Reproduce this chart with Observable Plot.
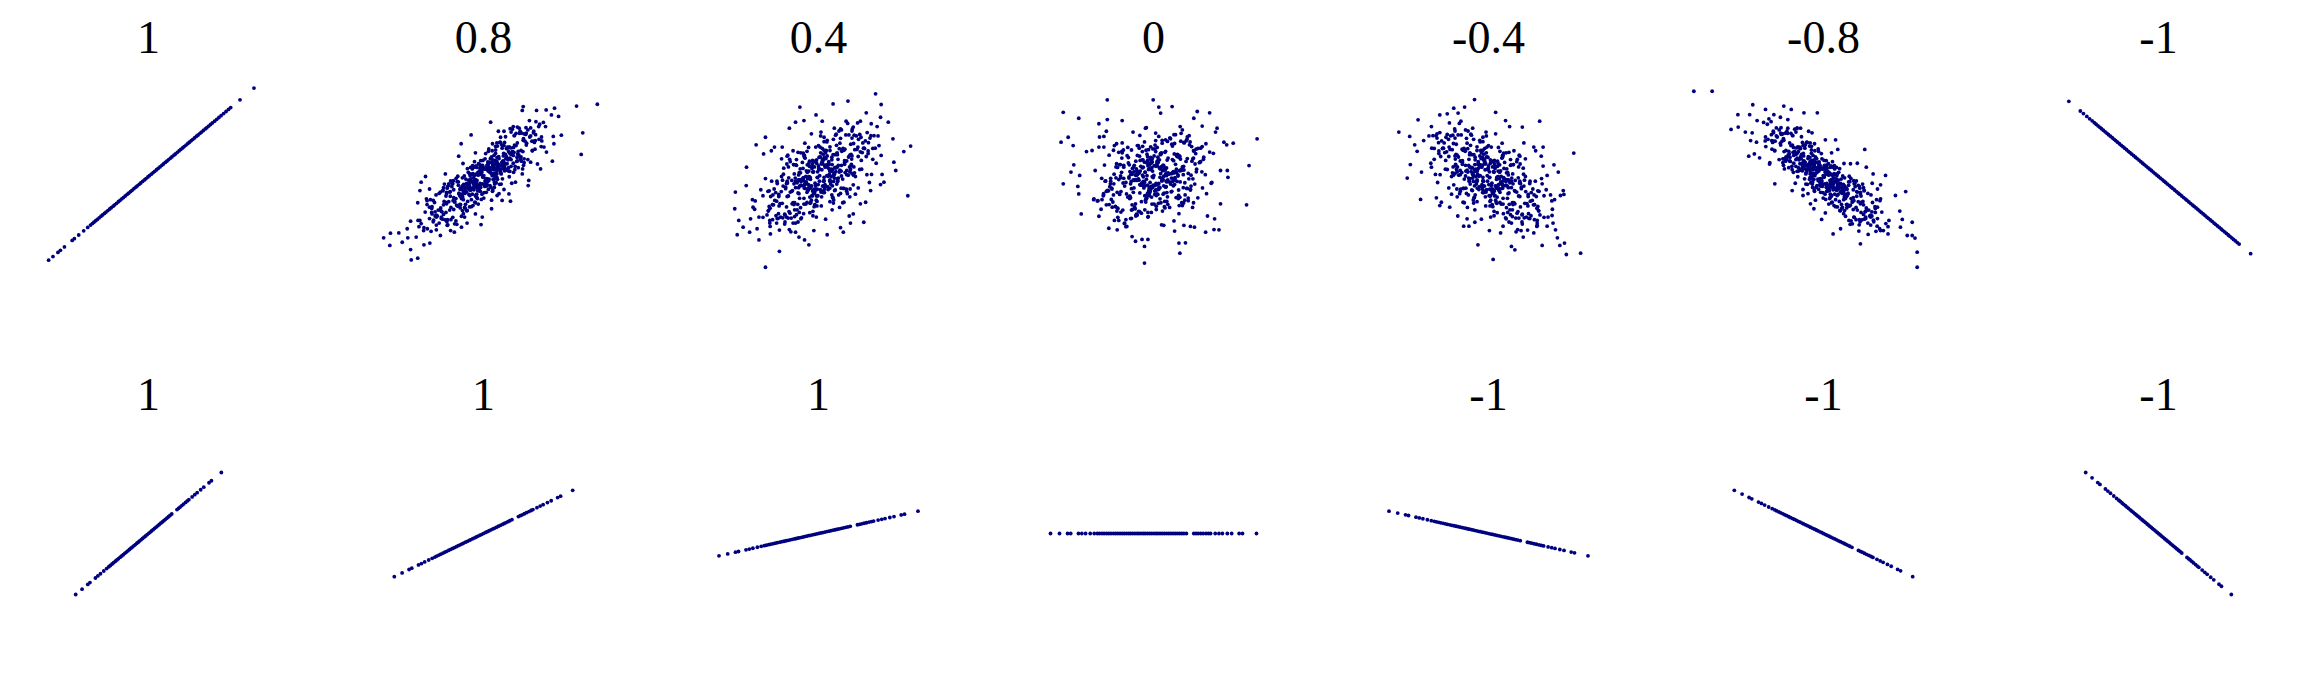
<!DOCTYPE html>
<html><head><meta charset="utf-8">
<script src="https://cdn.jsdelivr.net/npm/d3@7"></script>
<script src="https://cdn.jsdelivr.net/npm/@observablehq/plot@0.6"></script>
<style>html,body{margin:0;padding:0;background:#fff}</style>
</head><body><div id="chart"></div>
<script>
// Panel titles (Pearson correlation coefficient of each panel)
const topTitles = ["1","0.8","0.4","0","-0.4","-0.8","-1"];
const bottomTitles = ["1","1","1","","-1","-1","-1"];

// Row 1, column 1: correlation 1 (x values, points lie on y = x)
const rho1 = [-3.22,-3.08,-2.92,-2.84,-2.71,-2.46,-2.39,-2.25,-2.09,-1.96,-1.87,-1.81,-1.76,-1.70,-1.65,-1.59,-1.53,-1.48,-1.42,-1.37,-1.31,-1.25,-1.20,-1.14,-1.09,-1.03,-0.97,-0.92,-0.86,-0.81,-0.75,-0.69,-0.64,-0.58,-0.53,-0.47,-0.41,-0.36,-0.30,-0.25,-0.19,-0.13,-0.08,-0.02,0.03,0.09,0.15,0.20,0.26,0.31,0.37,0.43,0.48,0.54,0.59,0.65,0.71,0.76,0.82,0.87,0.93,0.99,1.04,1.10,1.15,1.21,1.27,1.32,1.38,1.43,1.49,1.55,1.60,1.66,1.71,1.77,1.83,1.88,1.94,2.00,2.06,2.13,2.20,2.27,2.34,2.42,2.50,2.58,2.65,2.95,3.40];

// Row 1, column 7: correlation -1 (x values, points lie on y = -x)
const rhoM1 = [-2.89,-2.52,-2.42,-2.31,-2.22,-2.14,-2.07,-2.01,-1.95,-1.89,-1.84,-1.78,-1.72,-1.66,-1.61,-1.55,-1.49,-1.43,-1.38,-1.32,-1.26,-1.20,-1.15,-1.09,-1.03,-0.97,-0.92,-0.86,-0.80,-0.74,-0.69,-0.63,-0.57,-0.51,-0.46,-0.40,-0.34,-0.28,-0.23,-0.17,-0.11,-0.05,0.00,0.06,0.12,0.18,0.23,0.29,0.35,0.41,0.46,0.52,0.58,0.64,0.69,0.75,0.81,0.87,0.92,0.98,1.04,1.10,1.15,1.21,1.27,1.33,1.38,1.44,1.50,1.56,1.61,1.67,1.73,1.79,1.84,1.90,1.96,2.02,2.07,2.13,2.19,2.25,2.30,2.36,2.42,2.48,2.54,2.60,2.97];

// Row 1, correlation 0.8
const rho08 = [
[3.67,2.78],[3.00,2.71],[2.29,2.63],[2.02,2.56],[1.71,2.54],[1.28,2.69],[1.25,2.54],[2.42,2.31],[2.19,2.37],[0.23,2.09],[3.20,1.68],[3.15,0.85],[2.51,1.59],[2.25,1.54],[2.27,1.26],[2.22,0.59],[1.84,0.29],[1.44,-0.35],[1.46,-0.15],[-0.40,1.60],[-0.72,1.26],[-0.80,0.78],[-1.23,0.10],[-1.87,0.00],[-2.01,-0.22],[-2.05,-0.54],[-2.12,-1.01],[-3.22,-2.36],[-3.00,-2.18],[-3.02,-2.65],[-2.73,-2.17],[-2.62,-2.53],[-2.35,-2.81],[-2.33,-3.21],[-2.12,-3.14],[-2.46,-2.01],[-2.35,-1.72],[-2.05,-1.69],[-1.92,-2.63],[-1.73,-2.56],[-1.39,-2.27],[-0.94,-2.14],[-0.71,-1.95],[-0.53,-1.79],[-0.08,-1.85],[-0.04,-1.56],[0.26,-1.24],[0.87,-0.95],[0.60,-0.92],[0.44,-0.73],[-1.92,-1.97],[-2.17,-2.33],[-2.44,-2.36],[1.48,2.15],[1.78,1.92],[2.00,1.92],[1.09,1.90],[0.96,1.92],[0.66,1.74],[0.55,1.51],[1.95,1.13],[2.03,0.94],[1.52,0.55],[1.25,0.10],[1.03,-0.22],[0.82,-0.67],[-0.26,-1.44],[-0.61,-1.56],[-1.06,-2.08],[-1.17,-1.88],[-1.52,-2.05],[-1.66,-1.44],[-1.82,-1.08],[-1.62,-0.92],[-1.39,-0.60],[-1.12,-0.28],
[0.12,-0.09],[-0.45,0.11],[0.83,-0.01],[-1.21,-1.00],[0.34,-0.11],[-0.07,0.26],[1.56,1.36],[-0.68,-1.31],[0.21,-0.35],[-0.93,-0.97],[0.55,1.31],[-0.29,-0.36],[1.12,0.34],[-1.67,-1.38],[0.04,-0.38],[0.71,1.53],[-0.38,-0.46],[1.34,1.36],[-0.16,0.49],[0.47,0.46],[-1.02,-0.39],[0.93,1.82],[-0.55,-0.27],[0.18,-0.10],[-1.43,-1.79],[0.62,0.59],[-0.11,-0.43],[1.81,2.01],[-0.79,-0.64],[0.29,-0.57],[-0.24,-0.71],[1.05,1.19],[-0.62,-0.38],[0.39,1.16],[-1.88,-1.37],[0.76,1.07],[-0.03,-0.28],[0.52,-0.30],[-0.87,-1.10],[1.27,0.96],[-0.33,-0.05],[0.09,-0.61],[-1.15,-1.86],[0.68,0.36],[-0.49,-0.46],[1.43,0.65],[-0.19,-0.54],[0.26,-0.91],[-0.71,-0.85],[0.98,0.93],[-1.31,-1.64],[0.15,0.44],[-0.58,-0.43],[1.69,2.11],[-0.08,-0.30],[0.43,0.22],[-0.97,-0.16],[0.81,0.21],[-0.27,-0.12],[0.01,0.03],[0.57,0.10],[-1.52,-1.87],[0.36,0.45],[-0.42,-0.53],[1.18,1.74],[-0.74,-1.08],[0.23,0.25],[-0.14,-0.56],[0.89,1.71],[-1.09,-0.60],[0.65,0.60],[-0.36,0.29],[1.49,1.52],[-0.52,-0.29],[0.07,0.88],[-1.26,-0.29],[0.74,0.76],[-0.21,-0.15],[1.01,0.26],[-0.65,-0.89],[0.31,0.51],[-1.74,-0.48],[0.49,0.45],[-0.05,0.17],[1.23,1.67],[-0.83,-1.14],[0.14,0.48],[-0.46,-0.29],[0.86,1.84],[-1.36,-1.62],[0.27,0.11],[-0.12,0.21],[1.62,1.74],[-0.59,-1.22],[0.41,0.09],[-0.96,-0.81],[0.05,0.68],[1.09,1.29],[-0.31,-0.39],[0.66,-0.50],[-1.19,-0.66],[0.19,0.35],[-0.77,-1.13],[1.38,1.21],[-0.02,0.62],[0.53,1.31],[-1.58,-1.00],[0.79,0.67],[-0.26,-0.75],[0.11,-0.31],[-0.89,-0.85],[1.16,1.66],[-0.43,0.03],[0.35,0.48],[-1.05,-1.66],[0.59,0.54],[-0.17,0.16],[1.93,2.08],[-0.69,-0.50],[0.24,-0.41],[-0.35,0.42],[0.96,0.51],[-1.39,-1.28],[0.45,1.17],[-0.09,0.37],[0.72,0.69],[-0.81,-0.34],[1.29,1.46],[-0.53,-1.31],[0.08,-0.10],[-1.12,-0.97],[0.61,1.19],[-0.22,-0.68],[1.52,1.56],[-0.64,-0.30],[0.33,0.27],[-0.99,-1.57],[0.85,0.20],[-0.13,-0.35],[0.17,1.06],[-1.61,-1.68],[0.69,0.47],[-0.39,-0.89],[1.07,0.58],[-0.76,-0.49],[0.28,0.99],[-0.04,0.30],[1.21,0.75],[-1.29,-0.43],[0.44,0.73],
[0.09,-0.12],[-0.11,0.45],[0.01,-0.83],[1.00,1.21],[0.11,-0.34],[-0.26,0.07],[-1.36,-1.56],[1.31,0.68],[0.35,-0.21],[0.97,0.93],[-1.31,-0.55],[0.36,0.29],[-0.34,-1.12],[1.38,1.67],[0.38,-0.04],[-1.53,-0.71],[0.46,0.38],[-1.36,-1.34],[-0.49,0.16],[-0.46,-0.47],[0.39,1.02],[-1.82,-0.93],[0.27,0.55],[0.10,-0.18],[1.79,1.43],[-0.59,-0.62],[0.43,0.11],[-2.01,-1.81],[0.64,0.79],[0.57,-0.29],[0.71,0.24],[-1.19,-1.05],[0.38,0.62],[-1.16,-0.39],[1.37,1.88],[-1.07,-0.76],[0.28,0.03],[0.30,-0.52],[1.10,0.87],[-0.96,-1.27],[0.05,0.33],[0.61,-0.09],[1.86,1.15],[-0.36,-0.68],[0.46,0.49],[-0.65,-1.43],[0.54,0.19],[0.91,-0.26],[0.85,0.71],[-0.93,-0.98],[1.64,1.31],[-0.44,-0.15],[0.43,0.58],[-2.11,-1.69],[0.30,0.08],[-0.22,-0.43],[0.16,0.97],[-0.21,-0.81],[0.12,0.27],[-0.03,-0.01],[-0.10,-0.57],[1.87,1.52],[-0.45,-0.36],[0.53,0.42],[-1.74,-1.18],[1.08,0.74],[-0.25,-0.23],[0.56,0.14],[-1.71,-0.89],[0.60,1.09],[-0.60,-0.65],[-0.29,0.36],[-1.52,-1.49],[0.29,0.52],[-0.88,-0.07],[0.29,1.26],[-0.76,-0.74],[0.15,0.21],[-0.26,-1.01],[0.89,0.65],[-0.51,-0.31],[0.48,1.74],[-0.45,-0.49],[-0.17,0.05],[-1.67,-1.23],[1.14,0.83],[-0.48,-0.14],[0.29,0.46],[-1.84,-0.86],[1.62,1.36],[-0.11,-0.27],[-0.21,0.12],[-1.74,-1.62],[1.22,0.59],[-0.09,-0.41],[0.81,0.96],[-0.68,-0.05],[-1.29,-1.09],[0.39,0.31],[0.50,-0.66],[0.66,1.19],[-0.35,-0.19],[1.13,0.77],[-1.21,-1.38],[-0.62,0.02],[-1.31,-0.53],[1.00,1.58],[-0.67,-0.79],[0.75,0.26],[0.31,-0.11],[0.85,0.89],[-1.66,-1.16],[-0.03,0.43],[-0.48,-0.35],[1.66,1.05],[-0.54,-0.59],[-0.16,0.17],[-2.08,-1.93],[0.50,0.69],[0.41,-0.24],[-0.42,0.35],[-0.51,-0.96],[1.28,1.39],[-1.17,-0.45],[-0.37,0.09],[-0.69,-0.72],[0.34,0.81],[-1.46,-1.29],[1.31,0.53],[0.10,-0.08],[0.97,1.12],[-1.19,-0.61],[0.68,0.22],[-1.56,-1.52],[0.30,0.64],[-0.27,-0.33],[1.57,0.99],[-0.20,-0.85],[0.35,0.13],[-1.06,-0.17],[1.68,1.61],[-0.47,-0.69],[0.89,0.39],[-0.58,-1.07],[0.49,0.76],[-0.99,-0.28],[-0.30,0.04],[-0.75,-1.21],[0.43,1.29],[-0.73,-0.44],
[-0.12,0.09],[0.45,-0.11],[-0.83,0.01],[1.21,1.00],[-0.34,0.11],[0.07,-0.26],[-1.56,-1.36],[0.68,1.31],[-0.21,0.35],[0.93,0.97],[-0.55,-1.31],[0.29,0.36],[-1.12,-0.34],[1.67,1.38],[-0.04,0.38],[-0.71,-1.53],[0.38,0.46],[-1.34,-1.36],[0.16,-0.49],[-0.47,-0.46],[1.02,0.39],[-0.93,-1.82],[0.55,0.27],[-0.18,0.10],[1.43,1.79],[-0.62,-0.59],[0.11,0.43],[-1.81,-2.01],[0.79,0.64],[-0.29,0.57],[0.24,0.71],[-1.05,-1.19],[0.62,0.38],[-0.39,-1.16],[1.88,1.37],[-0.76,-1.07],[0.03,0.28],[-0.52,0.30],[0.87,1.10],[-1.27,-0.96],[0.33,0.05],[-0.09,0.61],[1.15,1.86],[-0.68,-0.36],[0.49,0.46],[-1.43,-0.65],[0.19,0.54],[-0.26,0.91],[0.71,0.85],[-0.98,-0.93],[1.31,1.64],[-0.15,-0.44],[0.58,0.43],[-1.69,-2.11],[0.08,0.30],[-0.43,-0.22],[0.97,0.16],[-0.81,-0.21],[0.27,0.12],[-0.01,-0.03],[-0.57,-0.10],[1.52,1.87],[-0.36,-0.45],[0.42,0.53],[-1.18,-1.74],[0.74,1.08],[-0.23,-0.25],[0.14,0.56],[-0.89,-1.71],[1.09,0.60],[-0.65,-0.60],[0.36,-0.29],[-1.49,-1.52],[0.52,0.29],[-0.07,-0.88],[1.26,0.29],[-0.74,-0.76],[0.21,0.15],[-1.01,-0.26],[0.65,0.89],[-0.31,-0.51],[1.74,0.48],[-0.49,-0.45],[0.05,-0.17],[-1.23,-1.67],[0.83,1.14],[-0.14,-0.48],[0.46,0.29],[-0.86,-1.84],[1.36,1.62],[-0.27,-0.11],[0.12,-0.21],[-1.62,-1.74],[0.59,1.22],[-0.41,-0.09],[0.96,0.81],[-0.05,-0.68],[-1.09,-1.29],[0.31,0.39],[-0.66,0.50],[1.19,0.66],[-0.19,-0.35],[0.77,1.13],[-1.38,-1.21],[0.02,-0.62],[-0.53,-1.31],[1.58,1.00],[-0.79,-0.67],[0.26,0.75],[-0.11,0.31],[0.89,0.85],[-1.16,-1.66],[0.43,-0.03],[-0.35,-0.48],[1.05,1.66],[-0.59,-0.54],[0.17,-0.16],[-1.93,-2.08],[0.69,0.50],[-0.24,0.41],[0.35,-0.42],[-0.96,-0.51],[1.39,1.28],[-0.45,-1.17],[0.09,-0.37],[-0.72,-0.69],[0.81,0.34],[-1.29,-1.46],[0.53,1.31],[-0.08,0.10],[1.12,0.97],[-0.61,-1.19],[0.22,0.68],[-1.52,-1.56],[0.64,0.30],[-0.33,-0.27],[0.99,1.57],[-0.85,-0.20],[0.13,0.35],[-0.17,-1.06],[1.61,1.68],[-0.69,-0.47],[0.39,0.89],[-1.07,-0.58],[0.76,0.49],[-0.28,-0.99],[0.04,-0.30],[-1.21,-0.75],[1.29,0.43],[-0.44,-0.73]
];

// Row 1, correlation 0.4
const rho04 = [
[1.84,3.18],[2.02,2.77],[0.95,2.90],[0.47,2.79],[-0.60,2.67],[-0.08,2.37],[1.54,2.45],[2.00,2.28],[2.97,1.17],[2.75,0.96],[2.88,-0.74],[2.49,0.23],[2.43,0.55],[2.40,1.45],[2.25,2.09],[2.05,0.08],[2.11,-0.22],[1.46,-1.76],[1.03,-1.79],[0.80,-2.14],[0.28,-2.24],[-0.31,-2.63],[-1.26,-2.88],[-1.71,-3.49],[-2.62,-2.24],[-2.70,-1.24],[-2.68,-0.60],[-2.32,0.36],[-2.01,1.22],[-1.71,1.51],[-1.77,0.87],[-2.33,-0.35],[-2.57,-1.69],[-2.43,-1.95],[-2.22,-2.14],[-1.92,-2.44],[-1.98,-2.01],[-1.55,-2.21],[-0.74,-2.14],[-0.63,-2.33],[-0.45,-2.44],[-0.15,-2.08],[-1.42,1.13],[-1.17,1.13],[-0.94,1.86],[-0.74,2.09],[-0.47,2.15],[0.12,2.13],[0.71,1.83],[1.12,1.90],[1.35,2.13],[1.70,2.03],[1.89,1.92],[1.95,1.19],[2.02,0.81],[2.00,-0.31],[1.68,-0.54],[1.35,-1.05],[1.12,-1.44],[0.71,-1.97],[-0.82,-1.79],[-1.03,-1.56],[-1.35,-1.79],[-2.19,-1.63],[-2.11,-1.18],
[-0.31,-0.01],[0.78,-0.10],[-1.12,0.32],[-0.05,-1.13],[-0.64,0.06],[0.52,0.14],[0.18,1.51],[-1.27,-1.13],[-0.86,-0.15],[-0.37,-1.00],[1.45,1.09],[-0.22,-0.36],[-0.93,0.66],[-0.07,-1.56],[-0.69,-0.24],[1.61,1.30],[-0.26,-0.45],[0.48,1.43],[1.03,0.27],[0.14,0.49],[0.71,-0.65],[1.79,1.57],[0.29,-0.39],[-0.41,0.00],[-1.08,-1.75],[0.15,0.63],[-0.57,-0.33],[0.94,2.04],[-0.02,-0.74],[-1.33,-0.27],[-0.86,-0.57],[0.58,1.20],[0.19,-0.49],[1.41,0.92],[0.23,-1.64],[0.77,1.01],[-0.42,-0.20],[-1.19,0.00],[-0.67,-1.07],[-0.09,1.13],[0.36,-0.16],[-1.14,-0.37],[-1.57,-1.69],[-0.31,0.50],[-0.11,-0.50],[-0.82,0.99],[-0.64,-0.43],[-1.86,-0.51],[-0.47,-0.84],[0.25,1.00],[-0.98,-1.60],[0.54,0.35],[0.06,-0.51],[1.26,2.06],[-0.39,-0.23],[-0.21,0.31],[1.02,-0.48],[-0.73,0.45],[0.16,-0.18],[0.04,0.03],[-0.59,0.29],[-1.09,-1.83],[0.27,0.44],[-0.33,-0.52],[1.33,1.62],[-0.82,-1.01],[0.11,0.26],[-0.74,-0.43],[1.66,1.48],[0.46,-0.82],[0.13,0.65],[0.96,0.05],[0.55,1.59],[0.21,-0.39],[1.38,0.62],[1.19,-0.68],[0.28,0.79],[0.03,-0.18],[-0.91,0.57],[-0.61,-0.84],[0.44,0.46],[1.52,-0.99],[0.09,0.49],[0.35,0.09],[1.15,1.59],[-0.79,-1.08],[0.61,0.37],[0.13,-0.37],[1.92,1.56],[-0.88,-1.60],[-0.17,0.18],[0.51,0.09],[0.74,1.79],[-1.24,-1.04],[-0.39,0.22],[-0.07,-0.91],[1.06,0.47],[0.69,1.28],[-0.24,-0.38],[-1.71,-0.08],[0.49,-0.90],[0.33,0.31],[-0.85,-1.05],[0.18,1.34],[1.06,0.41],[1.48,1.08],[0.44,-1.28],[0.06,0.75],[-0.91,-0.60],[-0.67,-0.17],[-0.23,-0.91],[1.22,1.56],[0.62,-0.15],[0.34,0.46],[-1.37,-1.51],[0.12,0.59],[0.49,0.04],[0.89,2.13],[0.08,-0.60],[-1.01,-0.18],[1.16,0.14],[-0.43,0.71],[-0.28,-1.39],[1.35,0.95],[0.73,0.21],[0.19,0.74],[0.52,-0.54],[0.71,1.47],[-1.48,-1.08],[-0.27,-0.03],[-0.12,-1.08],[1.17,1.03],[-0.84,-0.54],[0.57,1.63],[0.36,-0.45],[0.01,0.31],[-1.29,-1.43],[-0.80,0.46],[-0.41,-0.28],[1.54,0.77],[-0.66,-1.75],[-0.14,0.58],[-0.97,-0.75],[-0.46,0.80],[0.19,-0.62],[1.28,0.77],[0.56,0.19],[-0.37,0.97],[1.01,-0.78],[0.63,0.66],
[0.01,0.31],[0.10,-0.78],[-0.32,1.12],[1.13,0.05],[-0.06,0.64],[-0.14,-0.52],[-1.51,-0.18],[1.13,1.27],[0.15,0.86],[1.00,0.37],[-1.09,-1.45],[0.36,0.22],[-0.66,0.93],[1.56,0.07],[0.24,0.69],[-1.30,-1.61],[0.45,0.26],[-1.43,-0.48],[-0.27,-1.03],[-0.49,-0.14],[0.65,-0.71],[-1.57,-1.79],[0.39,-0.29],[0.00,0.41],[1.75,1.08],[-0.63,-0.15],[0.33,0.57],[-2.04,-0.94],[0.74,0.02],[0.27,1.33],[0.57,0.86],[-1.20,-0.58],[0.49,-0.19],[-0.92,-1.41],[1.64,-0.23],[-1.01,-0.77],[0.20,0.42],[0.00,1.19],[1.07,0.67],[-1.13,0.09],[0.16,-0.36],[0.37,1.14],[1.69,1.57],[-0.50,0.31],[0.50,0.11],[-0.99,0.82],[0.43,0.64],[0.51,1.86],[0.84,0.47],[-1.00,-0.25],[1.60,0.98],[-0.35,-0.54],[0.51,-0.06],[-2.06,-1.26],[0.23,0.39],[-0.31,0.21],[0.48,-1.02],[-0.45,0.73],[0.18,-0.16],[-0.03,-0.04],[-0.29,0.59],[1.83,1.09],[-0.44,-0.27],[0.52,0.33],[-1.62,-1.33],[1.01,0.82],[-0.26,-0.11],[0.43,0.74],[-1.48,-1.66],[0.82,-0.46],[-0.65,-0.13],[-0.05,-0.96],[-1.59,-0.55],[0.39,-0.21],[-0.62,-1.38],[0.68,-1.19],[-0.79,-0.28],[0.18,-0.03],[-0.57,0.91],[0.84,0.61],[-0.46,-0.44],[0.99,-1.52],[-0.49,-0.09],[-0.09,-0.35],[-1.59,-1.15],[1.08,0.79],[-0.37,-0.61],[0.37,-0.13],[-1.56,-1.92],[1.60,0.88],[-0.18,0.17],[-0.09,-0.51],[-1.79,-0.74],[1.04,1.24],[-0.22,0.39],[0.91,0.07],[-0.47,-1.06],[-1.28,-0.69],[0.38,0.24],[0.08,1.71],[0.90,-0.49],[-0.31,-0.33],[1.05,0.85],[-1.34,-0.18],[-0.41,-1.06],[-1.08,-1.48],[1.28,-0.44],[-0.75,-0.06],[0.60,0.91],[0.17,0.67],[0.91,0.23],[-1.56,-1.22],[0.15,-0.62],[-0.46,-0.34],[1.51,1.37],[-0.59,-0.12],[-0.04,-0.49],[-2.13,-0.89],[0.60,-0.08],[0.18,1.01],[-0.14,-1.16],[-0.71,0.43],[1.39,0.28],[-0.95,-1.35],[-0.21,-0.73],[-0.74,-0.19],[0.54,-0.52],[-1.47,-0.71],[1.08,1.48],[0.03,0.27],[1.08,0.12],[-1.03,-1.17],[0.54,0.84],[-1.63,-0.57],[0.45,-0.36],[-0.31,-0.01],[1.43,1.29],[-0.46,0.80],[0.28,0.41],[-0.77,-1.54],[1.75,0.66],[-0.58,0.14],[0.75,0.97],[-0.80,0.46],[0.62,-0.19],[-0.77,-1.28],[-0.19,-0.56],[-0.97,0.37],[0.78,-1.01],[-0.66,-0.63],
[0.31,0.01],[-0.78,0.10],[1.12,-0.32],[0.05,1.13],[0.64,-0.06],[-0.52,-0.14],[-0.18,-1.51],[1.27,1.13],[0.86,0.15],[0.37,1.00],[-1.45,-1.09],[0.22,0.36],[0.93,-0.66],[0.07,1.56],[0.69,0.24],[-1.61,-1.30],[0.26,0.45],[-0.48,-1.43],[-1.03,-0.27],[-0.14,-0.49],[-0.71,0.65],[-1.79,-1.57],[-0.29,0.39],[0.41,0.00],[1.08,1.75],[-0.15,-0.63],[0.57,0.33],[-0.94,-2.04],[0.02,0.74],[1.33,0.27],[0.86,0.57],[-0.58,-1.20],[-0.19,0.49],[-1.41,-0.92],[-0.23,1.64],[-0.77,-1.01],[0.42,0.20],[1.19,0.00],[0.67,1.07],[0.09,-1.13],[-0.36,0.16],[1.14,0.37],[1.57,1.69],[0.31,-0.50],[0.11,0.50],[0.82,-0.99],[0.64,0.43],[1.86,0.51],[0.47,0.84],[-0.25,-1.00],[0.98,1.60],[-0.54,-0.35],[-0.06,0.51],[-1.26,-2.06],[0.39,0.23],[0.21,-0.31],[-1.02,0.48],[0.73,-0.45],[-0.16,0.18],[-0.04,-0.03],[0.59,-0.29],[1.09,1.83],[-0.27,-0.44],[0.33,0.52],[-1.33,-1.62],[0.82,1.01],[-0.11,-0.26],[0.74,0.43],[-1.66,-1.48],[-0.46,0.82],[-0.13,-0.65],[-0.96,-0.05],[-0.55,-1.59],[-0.21,0.39],[-1.38,-0.62],[-1.19,0.68],[-0.28,-0.79],[-0.03,0.18],[0.91,-0.57],[0.61,0.84],[-0.44,-0.46],[-1.52,0.99],[-0.09,-0.49],[-0.35,-0.09],[-1.15,-1.59],[0.79,1.08],[-0.61,-0.37],[-0.13,0.37],[-1.92,-1.56],[0.88,1.60],[0.17,-0.18],[-0.51,-0.09],[-0.74,-1.79],[1.24,1.04],[0.39,-0.22],[0.07,0.91],[-1.06,-0.47],[-0.69,-1.28],[0.24,0.38],[1.71,0.08],[-0.49,0.90],[-0.33,-0.31],[0.85,1.05],[-0.18,-1.34],[-1.06,-0.41],[-1.48,-1.08],[-0.44,1.28],[-0.06,-0.75],[0.91,0.60],[0.67,0.17],[0.23,0.91],[-1.22,-1.56],[-0.62,0.15],[-0.34,-0.46],[1.37,1.51],[-0.12,-0.59],[-0.49,-0.04],[-0.89,-2.13],[-0.08,0.60],[1.01,0.18],[-1.16,-0.14],[0.43,-0.71],[0.28,1.39],[-1.35,-0.95],[-0.73,-0.21],[-0.19,-0.74],[-0.52,0.54],[-0.71,-1.47],[1.48,1.08],[0.27,0.03],[0.12,1.08],[-1.17,-1.03],[0.84,0.54],[-0.57,-1.63],[-0.36,0.45],[-0.01,-0.31],[1.29,1.43],[0.80,-0.46],[0.41,0.28],[-1.54,-0.77],[0.66,1.75],[0.14,-0.58],[0.97,0.75],[0.46,-0.80],[-0.19,0.62],[-1.28,-0.77],[-0.56,-0.19],[0.37,-0.97],[-1.01,0.78],[-0.63,-0.66]
];

// Row 1, correlation 0
const rho0 = [
[-1.49,2.95],[-0.01,2.95],[0.60,2.69],[0.17,2.67],[0.23,2.44],[-2.91,2.47],[-2.41,2.24],[-1.49,2.19],[-1.01,2.15],[1.41,2.50],[1.81,2.45],[1.30,2.24],[1.57,1.94],[2.05,1.86],[2.00,1.71],[3.34,1.45],[2.57,1.28],[2.27,1.32],[2.36,1.22],[-2.98,1.32],[-2.75,1.51],[-2.59,1.19],[3.08,0.42],[2.40,-0.03],[2.16,0.23],[2.38,0.23],[3.00,-1.09],[2.16,-1.05],[1.97,-1.63],[2.11,-2.05],[1.95,-2.04],[1.68,-2.14],[-2.91,-0.28],[-2.66,0.17],[-2.57,0.45],[-2.38,0.04],[-2.44,-0.38],[-2.41,-0.67],[-2.33,-1.44],[-1.76,-1.53],[-1.44,-1.99],[-1.17,-2.05],[-1.12,-1.69],[-0.69,-2.31],[-0.58,-2.49],[-0.37,-2.42],[-0.18,-2.42],[-0.29,-2.69],[-0.29,-3.33],[0.85,-2.95],[0.82,-2.56],[1.03,-2.55],[0.68,-2.10],[0.33,-1.88],[0.98,-1.88],[1.19,-1.92],[1.32,-1.95],[-2.16,0.96],[-1.98,1.00],[-1.76,1.13],[-1.60,1.54],[-1.76,2.03],[-1.60,1.13],
[0.12,-0.31],[-0.45,0.78],[0.83,-1.12],[-1.21,-0.05],[0.34,-0.64],[-0.07,0.52],[1.56,0.18],[-0.68,-1.27],[0.21,-0.86],[-0.93,-0.37],[0.55,1.45],[-0.29,-0.22],[1.12,-0.93],[-1.67,-0.07],[0.04,-0.69],[0.71,1.61],[-0.38,-0.26],[1.34,0.48],[-0.16,1.03],[0.47,0.14],[-1.02,0.71],[0.93,1.79],[-0.55,0.29],[0.18,-0.41],[-1.43,-1.08],[0.62,0.15],[-0.11,-0.57],[1.81,0.94],[-0.79,-0.02],[0.29,-1.33],[-0.24,-0.86],[1.05,0.58],[-0.62,0.19],[0.39,1.41],[-1.88,0.23],[0.76,0.77],[-0.03,-0.42],[0.52,-1.19],[-0.87,-0.67],[1.27,-0.09],[-0.33,0.36],[0.09,-1.14],[-1.15,-1.57],[0.68,-0.31],[-0.49,-0.11],[1.43,-0.82],[-0.19,-0.64],[0.26,-1.86],[-0.71,-0.47],[0.98,0.25],[-1.31,-0.98],[0.15,0.54],[-0.58,0.06],[1.69,1.26],[-0.08,-0.39],[0.43,-0.21],[-0.97,1.02],[0.81,-0.73],[-0.27,0.16],[0.01,0.04],[0.57,-0.59],[-1.52,-1.09],[0.36,0.27],[-0.42,-0.33],[1.18,1.33],[-0.74,-0.82],[0.23,0.11],[-0.14,-0.74],[0.89,1.66],[-1.09,0.46],[0.65,0.13],[-0.36,0.96],[1.49,0.55],[-0.52,0.21],[0.07,1.38],[-1.26,1.19],[0.74,0.28],[-0.21,0.03],[1.01,-0.91],[-0.65,-0.61],[0.31,0.44],[-1.74,1.52],[0.49,0.09],[-0.05,0.35],[1.23,1.15],[-0.83,-0.79],[0.14,0.61],[-0.46,0.13],[0.86,1.92],[-1.36,-0.88],[0.27,-0.17],[-0.12,0.51],[1.62,0.74],[-0.59,-1.24],[0.41,-0.39],[-0.96,-0.07],[0.05,1.06],[1.09,0.69],[-0.31,-0.24],[0.66,-1.71],[-1.19,0.49],[0.19,0.33],[-0.77,-0.85],[1.38,0.18],[-0.02,1.06],[0.53,1.48],[-1.58,0.44],[0.79,0.06],[-0.26,-0.91],[0.11,-0.67],[-0.89,-0.23],[1.16,1.22],[-0.43,0.62],[0.35,0.34],[-1.05,-1.37],[0.59,0.12],[-0.17,0.49],[1.93,0.89],[-0.69,0.08],[0.24,-1.01],[-0.35,1.16],[0.96,-0.43],[-1.39,-0.28],[0.45,1.35],[-0.09,0.73],[0.72,0.19],[-0.81,0.52],[1.29,0.71],[-0.53,-1.48],[0.08,-0.27],[-1.12,-0.12],[0.61,1.17],[-0.22,-0.84],[1.52,0.57],[-0.64,0.36],[0.33,0.01],[-0.99,-1.29],[0.85,-0.80],[-0.13,-0.41],[0.17,1.54],[-1.61,-0.66],[0.69,-0.14],[-0.39,-0.97],[1.07,-0.46],[-0.76,0.19],[0.28,1.28],[-0.04,0.56],[1.21,-0.37],[-1.29,1.01],[0.44,0.63],
[0.31,-0.12],[-0.78,0.45],[1.12,-0.83],[0.05,1.21],[0.64,-0.34],[-0.52,0.07],[-0.18,-1.56],[1.27,0.68],[0.86,-0.21],[0.37,0.93],[-1.45,-0.55],[0.22,0.29],[0.93,-1.12],[0.07,1.67],[0.69,-0.04],[-1.61,-0.71],[0.26,0.38],[-0.48,-1.34],[-1.03,0.16],[-0.14,-0.47],[-0.71,1.02],[-1.79,-0.93],[-0.29,0.55],[0.41,-0.18],[1.08,1.43],[-0.15,-0.62],[0.57,0.11],[-0.94,-1.81],[0.02,0.79],[1.33,-0.29],[0.86,0.24],[-0.58,-1.05],[-0.19,0.62],[-1.41,-0.39],[-0.23,1.88],[-0.77,-0.76],[0.42,0.03],[1.19,-0.52],[0.67,0.87],[0.09,-1.27],[-0.36,0.33],[1.14,-0.09],[1.57,1.15],[0.31,-0.68],[0.11,0.49],[0.82,-1.43],[0.64,0.19],[1.86,-0.26],[0.47,0.71],[-0.25,-0.98],[0.98,1.31],[-0.54,-0.15],[-0.06,0.58],[-1.26,-1.69],[0.39,0.08],[0.21,-0.43],[-1.02,0.97],[0.73,-0.81],[-0.16,0.27],[-0.04,-0.01],[0.59,-0.57],[1.09,1.52],[-0.27,-0.36],[0.33,0.42],[-1.33,-1.18],[0.82,0.74],[-0.11,-0.23],[0.74,0.14],[-1.66,-0.89],[-0.46,1.09],[-0.13,-0.65],[-0.96,0.36],[-0.55,-1.49],[-0.21,0.52],[-1.38,-0.07],[-1.19,1.26],[-0.28,-0.74],[-0.03,0.21],[0.91,-1.01],[0.61,0.65],[-0.44,-0.31],[-1.52,1.74],[-0.09,-0.49],[-0.35,0.05],[-1.15,-1.23],[0.79,0.83],[-0.61,-0.14],[-0.13,0.46],[-1.92,-0.86],[0.88,1.36],[0.17,-0.27],[-0.51,0.12],[-0.74,-1.62],[1.24,0.59],[0.39,-0.41],[0.07,0.96],[-1.06,-0.05],[-0.69,-1.09],[0.24,0.31],[1.71,-0.66],[-0.49,1.19],[-0.33,-0.19],[0.85,0.77],[-0.18,-1.38],[-1.06,0.02],[-1.48,-0.53],[-0.44,1.58],[-0.06,-0.79],[0.91,0.26],[0.67,-0.11],[0.23,0.89],[-1.22,-1.16],[-0.62,0.43],[-0.34,-0.35],[1.37,1.05],[-0.12,-0.59],[-0.49,0.17],[-0.89,-1.93],[-0.08,0.69],[1.01,-0.24],[-1.16,0.35],[0.43,-0.96],[0.28,1.39],[-1.35,-0.45],[-0.73,0.09],[-0.19,-0.72],[-0.52,0.81],[-0.71,-1.29],[1.48,0.53],[0.27,-0.08],[0.12,1.12],[-1.17,-0.61],[0.84,0.22],[-0.57,-1.52],[-0.36,0.64],[-0.01,-0.33],[1.29,0.99],[0.80,-0.85],[0.41,0.13],[-1.54,-0.17],[0.66,1.61],[0.14,-0.69],[0.97,0.39],[0.46,-1.07],[-0.19,0.76],[-1.28,-0.28],[-0.56,0.04],[0.37,-1.21],[-1.01,1.29],[-0.63,-0.44],
[-0.12,0.31],[0.45,-0.78],[-0.83,1.12],[1.21,0.05],[-0.34,0.64],[0.07,-0.52],[-1.56,-0.18],[0.68,1.27],[-0.21,0.86],[0.93,0.37],[-0.55,-1.45],[0.29,0.22],[-1.12,0.93],[1.67,0.07],[-0.04,0.69],[-0.71,-1.61],[0.38,0.26],[-1.34,-0.48],[0.16,-1.03],[-0.47,-0.14],[1.02,-0.71],[-0.93,-1.79],[0.55,-0.29],[-0.18,0.41],[1.43,1.08],[-0.62,-0.15],[0.11,0.57],[-1.81,-0.94],[0.79,0.02],[-0.29,1.33],[0.24,0.86],[-1.05,-0.58],[0.62,-0.19],[-0.39,-1.41],[1.88,-0.23],[-0.76,-0.77],[0.03,0.42],[-0.52,1.19],[0.87,0.67],[-1.27,0.09],[0.33,-0.36],[-0.09,1.14],[1.15,1.57],[-0.68,0.31],[0.49,0.11],[-1.43,0.82],[0.19,0.64],[-0.26,1.86],[0.71,0.47],[-0.98,-0.25],[1.31,0.98],[-0.15,-0.54],[0.58,-0.06],[-1.69,-1.26],[0.08,0.39],[-0.43,0.21],[0.97,-1.02],[-0.81,0.73],[0.27,-0.16],[-0.01,-0.04],[-0.57,0.59],[1.52,1.09],[-0.36,-0.27],[0.42,0.33],[-1.18,-1.33],[0.74,0.82],[-0.23,-0.11],[0.14,0.74],[-0.89,-1.66],[1.09,-0.46],[-0.65,-0.13],[0.36,-0.96],[-1.49,-0.55],[0.52,-0.21],[-0.07,-1.38],[1.26,-1.19],[-0.74,-0.28],[0.21,-0.03],[-1.01,0.91],[0.65,0.61],[-0.31,-0.44],[1.74,-1.52],[-0.49,-0.09],[0.05,-0.35],[-1.23,-1.15],[0.83,0.79],[-0.14,-0.61],[0.46,-0.13],[-0.86,-1.92],[1.36,0.88],[-0.27,0.17],[0.12,-0.51],[-1.62,-0.74],[0.59,1.24],[-0.41,0.39],[0.96,0.07],[-0.05,-1.06],[-1.09,-0.69],[0.31,0.24],[-0.66,1.71],[1.19,-0.49],[-0.19,-0.33],[0.77,0.85],[-1.38,-0.18],[0.02,-1.06],[-0.53,-1.48],[1.58,-0.44],[-0.79,-0.06],[0.26,0.91],[-0.11,0.67],[0.89,0.23],[-1.16,-1.22],[0.43,-0.62],[-0.35,-0.34],[1.05,1.37],[-0.59,-0.12],[0.17,-0.49],[-1.93,-0.89],[0.69,-0.08],[-0.24,1.01],[0.35,-1.16],[-0.96,0.43],[1.39,0.28],[-0.45,-1.35],[0.09,-0.73],[-0.72,-0.19],[0.81,-0.52],[-1.29,-0.71],[0.53,1.48],[-0.08,0.27],[1.12,0.12],[-0.61,-1.17],[0.22,0.84],[-1.52,-0.57],[0.64,-0.36],[-0.33,-0.01],[0.99,1.29],[-0.85,0.80],[0.13,0.41],[-0.17,-1.54],[1.61,0.66],[-0.69,0.14],[0.39,0.97],[-1.07,0.46],[0.76,-0.19],[-0.28,-1.28],[0.04,-0.56],[-1.21,0.37],[1.29,-1.01],[-0.44,-0.63]
];

// Row 1, correlation -0.4
const rhoM04 = [
[-0.45,2.96],[-0.77,2.67],[-1.12,2.63],[-1.33,2.41],[-1.57,2.37],[-0.98,2.44],[0.23,2.47],[-2.27,2.18],[-2.89,1.71],[-2.54,1.54],[-1.84,1.92],[-1.66,1.64],[-2.38,1.22],[-2.30,0.97],[-2.09,1.38],[-2.52,0.46],[-2.62,-0.06],[-2.16,0.17],[-2.19,-0.88],[-1.84,0.36],[0.55,2.15],[0.68,1.92],[1.09,1.90],[1.65,2.13],[1.14,1.29],[1.46,1.13],[1.76,1.13],[1.70,0.78],[2.75,0.90],[2.11,0.45],[2.25,0.17],[1.76,0.40],[1.89,0.04],[1.73,-0.28],[2.41,-0.54],[2.43,-0.69],[2.32,-0.73],[2.00,-0.71],[2.97,-2.95],[2.51,-3.00],[2.45,-2.56],[2.30,-2.65],[2.22,-2.36],[1.73,-2.65],[2.16,-2.05],[1.89,-1.91],[2.05,-1.50],[2.08,-1.79],[1.46,-2.17],[1.57,-1.88],[0.85,-2.82],[0.74,-2.69],[0.15,-3.19],[-0.34,-2.63],[0.03,-2.08],[0.39,-2.17],[0.47,-1.91],[1.05,-2.08],[1.12,-2.33],[-0.44,-1.76],[-0.80,-1.91],[-0.63,-1.91],[-0.69,-1.63],[-1.57,-1.12],[-1.25,-1.18],[-1.68,-0.82],
[0.31,-0.01],[-0.78,-0.10],[1.12,0.32],[0.05,-1.13],[0.64,0.06],[-0.52,0.14],[-0.18,1.51],[1.27,-1.13],[0.86,-0.15],[0.37,-1.00],[-1.45,1.09],[0.22,-0.36],[0.93,0.66],[0.07,-1.56],[0.69,-0.24],[-1.61,1.30],[0.26,-0.45],[-0.48,1.43],[-1.03,0.27],[-0.14,0.49],[-0.71,-0.65],[-1.79,1.57],[-0.29,-0.39],[0.41,0.00],[1.08,-1.75],[-0.15,0.63],[0.57,-0.33],[-0.94,2.04],[0.02,-0.74],[1.33,-0.27],[0.86,-0.57],[-0.58,1.20],[-0.19,-0.49],[-1.41,0.92],[-0.23,-1.64],[-0.77,1.01],[0.42,-0.20],[1.19,0.00],[0.67,-1.07],[0.09,1.13],[-0.36,-0.16],[1.14,-0.37],[1.57,-1.69],[0.31,0.50],[0.11,-0.50],[0.82,0.99],[0.64,-0.43],[1.86,-0.51],[0.47,-0.84],[-0.25,1.00],[0.98,-1.60],[-0.54,0.35],[-0.06,-0.51],[-1.26,2.06],[0.39,-0.23],[0.21,0.31],[-1.02,-0.48],[0.73,0.45],[-0.16,-0.18],[-0.04,0.03],[0.59,0.29],[1.09,-1.83],[-0.27,0.44],[0.33,-0.52],[-1.33,1.62],[0.82,-1.01],[-0.11,0.26],[0.74,-0.43],[-1.66,1.48],[-0.46,-0.82],[-0.13,0.65],[-0.96,0.05],[-0.55,1.59],[-0.21,-0.39],[-1.38,0.62],[-1.19,-0.68],[-0.28,0.79],[-0.03,-0.18],[0.91,0.57],[0.61,-0.84],[-0.44,0.46],[-1.52,-0.99],[-0.09,0.49],[-0.35,0.09],[-1.15,1.59],[0.79,-1.08],[-0.61,0.37],[-0.13,-0.37],[-1.92,1.56],[0.88,-1.60],[0.17,0.18],[-0.51,0.09],[-0.74,1.79],[1.24,-1.04],[0.39,0.22],[0.07,-0.91],[-1.06,0.47],[-0.69,1.28],[0.24,-0.38],[1.71,-0.08],[-0.49,-0.90],[-0.33,0.31],[0.85,-1.05],[-0.18,1.34],[-1.06,0.41],[-1.48,1.08],[-0.44,-1.28],[-0.06,0.75],[0.91,-0.60],[0.67,-0.17],[0.23,-0.91],[-1.22,1.56],[-0.62,-0.15],[-0.34,0.46],[1.37,-1.51],[-0.12,0.59],[-0.49,0.04],[-0.89,2.13],[-0.08,-0.60],[1.01,-0.18],[-1.16,0.14],[0.43,0.71],[0.28,-1.39],[-1.35,0.95],[-0.73,0.21],[-0.19,0.74],[-0.52,-0.54],[-0.71,1.47],[1.48,-1.08],[0.27,-0.03],[0.12,-1.08],[-1.17,1.03],[0.84,-0.54],[-0.57,1.63],[-0.36,-0.45],[-0.01,0.31],[1.29,-1.43],[0.80,0.46],[0.41,-0.28],[-1.54,0.77],[0.66,-1.75],[0.14,0.58],[0.97,-0.75],[0.46,0.80],[-0.19,-0.62],[-1.28,0.77],[-0.56,0.19],[0.37,0.97],[-1.01,-0.78],[-0.63,0.66],
[-0.01,0.31],[-0.10,-0.78],[0.32,1.12],[-1.13,0.05],[0.06,0.64],[0.14,-0.52],[1.51,-0.18],[-1.13,1.27],[-0.15,0.86],[-1.00,0.37],[1.09,-1.45],[-0.36,0.22],[0.66,0.93],[-1.56,0.07],[-0.24,0.69],[1.30,-1.61],[-0.45,0.26],[1.43,-0.48],[0.27,-1.03],[0.49,-0.14],[-0.65,-0.71],[1.57,-1.79],[-0.39,-0.29],[0.00,0.41],[-1.75,1.08],[0.63,-0.15],[-0.33,0.57],[2.04,-0.94],[-0.74,0.02],[-0.27,1.33],[-0.57,0.86],[1.20,-0.58],[-0.49,-0.19],[0.92,-1.41],[-1.64,-0.23],[1.01,-0.77],[-0.20,0.42],[0.00,1.19],[-1.07,0.67],[1.13,0.09],[-0.16,-0.36],[-0.37,1.14],[-1.69,1.57],[0.50,0.31],[-0.50,0.11],[0.99,0.82],[-0.43,0.64],[-0.51,1.86],[-0.84,0.47],[1.00,-0.25],[-1.60,0.98],[0.35,-0.54],[-0.51,-0.06],[2.06,-1.26],[-0.23,0.39],[0.31,0.21],[-0.48,-1.02],[0.45,0.73],[-0.18,-0.16],[0.03,-0.04],[0.29,0.59],[-1.83,1.09],[0.44,-0.27],[-0.52,0.33],[1.62,-1.33],[-1.01,0.82],[0.26,-0.11],[-0.43,0.74],[1.48,-1.66],[-0.82,-0.46],[0.65,-0.13],[0.05,-0.96],[1.59,-0.55],[-0.39,-0.21],[0.62,-1.38],[-0.68,-1.19],[0.79,-0.28],[-0.18,-0.03],[0.57,0.91],[-0.84,0.61],[0.46,-0.44],[-0.99,-1.52],[0.49,-0.09],[0.09,-0.35],[1.59,-1.15],[-1.08,0.79],[0.37,-0.61],[-0.37,-0.13],[1.56,-1.92],[-1.60,0.88],[0.18,0.17],[0.09,-0.51],[1.79,-0.74],[-1.04,1.24],[0.22,0.39],[-0.91,0.07],[0.47,-1.06],[1.28,-0.69],[-0.38,0.24],[-0.08,1.71],[-0.90,-0.49],[0.31,-0.33],[-1.05,0.85],[1.34,-0.18],[0.41,-1.06],[1.08,-1.48],[-1.28,-0.44],[0.75,-0.06],[-0.60,0.91],[-0.17,0.67],[-0.91,0.23],[1.56,-1.22],[-0.15,-0.62],[0.46,-0.34],[-1.51,1.37],[0.59,-0.12],[0.04,-0.49],[2.13,-0.89],[-0.60,-0.08],[-0.18,1.01],[0.14,-1.16],[0.71,0.43],[-1.39,0.28],[0.95,-1.35],[0.21,-0.73],[0.74,-0.19],[-0.54,-0.52],[1.47,-0.71],[-1.08,1.48],[-0.03,0.27],[-1.08,0.12],[1.03,-1.17],[-0.54,0.84],[1.63,-0.57],[-0.45,-0.36],[0.31,-0.01],[-1.43,1.29],[0.46,0.80],[-0.28,0.41],[0.77,-1.54],[-1.75,0.66],[0.58,0.14],[-0.75,0.97],[0.80,0.46],[-0.62,-0.19],[0.77,-1.28],[0.19,-0.56],[0.97,0.37],[-0.78,-1.01],[0.66,-0.63],
[-0.31,0.01],[0.78,0.10],[-1.12,-0.32],[-0.05,1.13],[-0.64,-0.06],[0.52,-0.14],[0.18,-1.51],[-1.27,1.13],[-0.86,0.15],[-0.37,1.00],[1.45,-1.09],[-0.22,0.36],[-0.93,-0.66],[-0.07,1.56],[-0.69,0.24],[1.61,-1.30],[-0.26,0.45],[0.48,-1.43],[1.03,-0.27],[0.14,-0.49],[0.71,0.65],[1.79,-1.57],[0.29,0.39],[-0.41,0.00],[-1.08,1.75],[0.15,-0.63],[-0.57,0.33],[0.94,-2.04],[-0.02,0.74],[-1.33,0.27],[-0.86,0.57],[0.58,-1.20],[0.19,0.49],[1.41,-0.92],[0.23,1.64],[0.77,-1.01],[-0.42,0.20],[-1.19,0.00],[-0.67,1.07],[-0.09,-1.13],[0.36,0.16],[-1.14,0.37],[-1.57,1.69],[-0.31,-0.50],[-0.11,0.50],[-0.82,-0.99],[-0.64,0.43],[-1.86,0.51],[-0.47,0.84],[0.25,-1.00],[-0.98,1.60],[0.54,-0.35],[0.06,0.51],[1.26,-2.06],[-0.39,0.23],[-0.21,-0.31],[1.02,0.48],[-0.73,-0.45],[0.16,0.18],[0.04,-0.03],[-0.59,-0.29],[-1.09,1.83],[0.27,-0.44],[-0.33,0.52],[1.33,-1.62],[-0.82,1.01],[0.11,-0.26],[-0.74,0.43],[1.66,-1.48],[0.46,0.82],[0.13,-0.65],[0.96,-0.05],[0.55,-1.59],[0.21,0.39],[1.38,-0.62],[1.19,0.68],[0.28,-0.79],[0.03,0.18],[-0.91,-0.57],[-0.61,0.84],[0.44,-0.46],[1.52,0.99],[0.09,-0.49],[0.35,-0.09],[1.15,-1.59],[-0.79,1.08],[0.61,-0.37],[0.13,0.37],[1.92,-1.56],[-0.88,1.60],[-0.17,-0.18],[0.51,-0.09],[0.74,-1.79],[-1.24,1.04],[-0.39,-0.22],[-0.07,0.91],[1.06,-0.47],[0.69,-1.28],[-0.24,0.38],[-1.71,0.08],[0.49,0.90],[0.33,-0.31],[-0.85,1.05],[0.18,-1.34],[1.06,-0.41],[1.48,-1.08],[0.44,1.28],[0.06,-0.75],[-0.91,0.60],[-0.67,0.17],[-0.23,0.91],[1.22,-1.56],[0.62,0.15],[0.34,-0.46],[-1.37,1.51],[0.12,-0.59],[0.49,-0.04],[0.89,-2.13],[0.08,0.60],[-1.01,0.18],[1.16,-0.14],[-0.43,-0.71],[-0.28,1.39],[1.35,-0.95],[0.73,-0.21],[0.19,-0.74],[0.52,0.54],[0.71,-1.47],[-1.48,1.08],[-0.27,0.03],[-0.12,1.08],[1.17,-1.03],[-0.84,0.54],[0.57,-1.63],[0.36,0.45],[0.01,-0.31],[-1.29,1.43],[-0.80,-0.46],[-0.41,0.28],[1.54,-0.77],[-0.66,1.75],[-0.14,-0.58],[-0.97,0.75],[-0.46,-0.80],[0.19,0.62],[1.28,-0.77],[0.56,-0.19],[-0.37,-0.97],[1.01,0.78],[0.63,-0.66]
];

// Row 1, correlation -0.8
const rhoM08 = [
[-4.18,3.28],[-3.59,3.28],[-2.28,2.76],[-2.76,2.38],[-2.38,2.38],[-1.87,2.58],[-1.28,2.71],[-1.04,2.58],[-0.63,2.45],[-0.20,2.45],[-1.60,2.38],[-1.39,2.28],[-1.15,2.19],[-2.14,2.15],[-1.76,2.22],[-2.98,1.81],[-2.75,1.90],[-2.52,1.71],[-2.30,1.68],[-2.16,1.32],[-2.35,1.38],[-2.41,0.78],[-2.23,0.87],[-2.06,0.72],[-1.73,0.53],[-1.57,-0.28],[-1.28,0.68],[-0.85,1.87],[-0.74,1.86],[-0.37,1.68],[0.06,1.41],[0.39,1.41],[0.46,1.04],[1.33,1.04],[0.87,0.49],[1.09,0.51],[1.38,0.36],[2.00,0.04],[1.60,0.10],[1.57,-0.26],[1.84,-0.32],[2.32,-0.73],[2.65,-0.58],[2.46,-1.33],[2.54,-1.65],[2.48,-1.95],[2.86,-1.76],[2.70,-2.27],[2.86,-2.27],[2.95,-2.37],[3.02,-2.91],[3.02,-3.49],[2.08,-2.21],[1.84,-2.08],[1.73,-1.91],[1.44,-2.23],[1.19,-2.59],[1.14,-2.10],[0.31,-2.21],[0.55,-2.01],[-0.06,-1.65],[0.06,-1.40],[-0.31,-1.24],[-0.66,-0.73],[-1.01,-0.54],[-0.42,-1.05],[0.82,-1.69],[0.98,-1.56],
[-0.12,-0.09],[0.45,0.11],[-0.83,-0.01],[1.21,-1.00],[-0.34,-0.11],[0.07,0.26],[-1.56,1.36],[0.68,-1.31],[-0.21,-0.35],[0.93,-0.97],[-0.55,1.31],[0.29,-0.36],[-1.12,0.34],[1.67,-1.38],[-0.04,-0.38],[-0.71,1.53],[0.38,-0.46],[-1.34,1.36],[0.16,0.49],[-0.47,0.46],[1.02,-0.39],[-0.93,1.82],[0.55,-0.27],[-0.18,-0.10],[1.43,-1.79],[-0.62,0.59],[0.11,-0.43],[-1.81,2.01],[0.79,-0.64],[-0.29,-0.57],[0.24,-0.71],[-1.05,1.19],[0.62,-0.38],[-0.39,1.16],[1.88,-1.37],[-0.76,1.07],[0.03,-0.28],[-0.52,-0.30],[0.87,-1.10],[-1.27,0.96],[0.33,-0.05],[-0.09,-0.61],[1.15,-1.86],[-0.68,0.36],[0.49,-0.46],[-1.43,0.65],[0.19,-0.54],[-0.26,-0.91],[0.71,-0.85],[-0.98,0.93],[1.31,-1.64],[-0.15,0.44],[0.58,-0.43],[-1.69,2.11],[0.08,-0.30],[-0.43,0.22],[0.97,-0.16],[-0.81,0.21],[0.27,-0.12],[-0.01,0.03],[-0.57,0.10],[1.52,-1.87],[-0.36,0.45],[0.42,-0.53],[-1.18,1.74],[0.74,-1.08],[-0.23,0.25],[0.14,-0.56],[-0.89,1.71],[1.09,-0.60],[-0.65,0.60],[0.36,0.29],[-1.49,1.52],[0.52,-0.29],[-0.07,0.88],[1.26,-0.29],[-0.74,0.76],[0.21,-0.15],[-1.01,0.26],[0.65,-0.89],[-0.31,0.51],[1.74,-0.48],[-0.49,0.45],[0.05,0.17],[-1.23,1.67],[0.83,-1.14],[-0.14,0.48],[0.46,-0.29],[-0.86,1.84],[1.36,-1.62],[-0.27,0.11],[0.12,0.21],[-1.62,1.74],[0.59,-1.22],[-0.41,0.09],[0.96,-0.81],[-0.05,0.68],[-1.09,1.29],[0.31,-0.39],[-0.66,-0.50],[1.19,-0.66],[-0.19,0.35],[0.77,-1.13],[-1.38,1.21],[0.02,0.62],[-0.53,1.31],[1.58,-1.00],[-0.79,0.67],[0.26,-0.75],[-0.11,-0.31],[0.89,-0.85],[-1.16,1.66],[0.43,0.03],[-0.35,0.48],[1.05,-1.66],[-0.59,0.54],[0.17,0.16],[-1.93,2.08],[0.69,-0.50],[-0.24,-0.41],[0.35,0.42],[-0.96,0.51],[1.39,-1.28],[-0.45,1.17],[0.09,0.37],[-0.72,0.69],[0.81,-0.34],[-1.29,1.46],[0.53,-1.31],[-0.08,-0.10],[1.12,-0.97],[-0.61,1.19],[0.22,-0.68],[-1.52,1.56],[0.64,-0.30],[-0.33,0.27],[0.99,-1.57],[-0.85,0.20],[0.13,-0.35],[-0.17,1.06],[1.61,-1.68],[-0.69,0.47],[0.39,-0.89],[-1.07,0.58],[0.76,-0.49],[-0.28,0.99],[0.04,0.30],[-1.21,0.75],[1.29,-0.43],[-0.44,0.73],
[-0.09,-0.12],[0.11,0.45],[-0.01,-0.83],[-1.00,1.21],[-0.11,-0.34],[0.26,0.07],[1.36,-1.56],[-1.31,0.68],[-0.35,-0.21],[-0.97,0.93],[1.31,-0.55],[-0.36,0.29],[0.34,-1.12],[-1.38,1.67],[-0.38,-0.04],[1.53,-0.71],[-0.46,0.38],[1.36,-1.34],[0.49,0.16],[0.46,-0.47],[-0.39,1.02],[1.82,-0.93],[-0.27,0.55],[-0.10,-0.18],[-1.79,1.43],[0.59,-0.62],[-0.43,0.11],[2.01,-1.81],[-0.64,0.79],[-0.57,-0.29],[-0.71,0.24],[1.19,-1.05],[-0.38,0.62],[1.16,-0.39],[-1.37,1.88],[1.07,-0.76],[-0.28,0.03],[-0.30,-0.52],[-1.10,0.87],[0.96,-1.27],[-0.05,0.33],[-0.61,-0.09],[-1.86,1.15],[0.36,-0.68],[-0.46,0.49],[0.65,-1.43],[-0.54,0.19],[-0.91,-0.26],[-0.85,0.71],[0.93,-0.98],[-1.64,1.31],[0.44,-0.15],[-0.43,0.58],[2.11,-1.69],[-0.30,0.08],[0.22,-0.43],[-0.16,0.97],[0.21,-0.81],[-0.12,0.27],[0.03,-0.01],[0.10,-0.57],[-1.87,1.52],[0.45,-0.36],[-0.53,0.42],[1.74,-1.18],[-1.08,0.74],[0.25,-0.23],[-0.56,0.14],[1.71,-0.89],[-0.60,1.09],[0.60,-0.65],[0.29,0.36],[1.52,-1.49],[-0.29,0.52],[0.88,-0.07],[-0.29,1.26],[0.76,-0.74],[-0.15,0.21],[0.26,-1.01],[-0.89,0.65],[0.51,-0.31],[-0.48,1.74],[0.45,-0.49],[0.17,0.05],[1.67,-1.23],[-1.14,0.83],[0.48,-0.14],[-0.29,0.46],[1.84,-0.86],[-1.62,1.36],[0.11,-0.27],[0.21,0.12],[1.74,-1.62],[-1.22,0.59],[0.09,-0.41],[-0.81,0.96],[0.68,-0.05],[1.29,-1.09],[-0.39,0.31],[-0.50,-0.66],[-0.66,1.19],[0.35,-0.19],[-1.13,0.77],[1.21,-1.38],[0.62,0.02],[1.31,-0.53],[-1.00,1.58],[0.67,-0.79],[-0.75,0.26],[-0.31,-0.11],[-0.85,0.89],[1.66,-1.16],[0.03,0.43],[0.48,-0.35],[-1.66,1.05],[0.54,-0.59],[0.16,0.17],[2.08,-1.93],[-0.50,0.69],[-0.41,-0.24],[0.42,0.35],[0.51,-0.96],[-1.28,1.39],[1.17,-0.45],[0.37,0.09],[0.69,-0.72],[-0.34,0.81],[1.46,-1.29],[-1.31,0.53],[-0.10,-0.08],[-0.97,1.12],[1.19,-0.61],[-0.68,0.22],[1.56,-1.52],[-0.30,0.64],[0.27,-0.33],[-1.57,0.99],[0.20,-0.85],[-0.35,0.13],[1.06,-0.17],[-1.68,1.61],[0.47,-0.69],[-0.89,0.39],[0.58,-1.07],[-0.49,0.76],[0.99,-0.28],[0.30,0.04],[0.75,-1.21],[-0.43,1.29],[0.73,-0.44],
[0.12,0.09],[-0.45,-0.11],[0.83,0.01],[-1.21,1.00],[0.34,0.11],[-0.07,-0.26],[1.56,-1.36],[-0.68,1.31],[0.21,0.35],[-0.93,0.97],[0.55,-1.31],[-0.29,0.36],[1.12,-0.34],[-1.67,1.38],[0.04,0.38],[0.71,-1.53],[-0.38,0.46],[1.34,-1.36],[-0.16,-0.49],[0.47,-0.46],[-1.02,0.39],[0.93,-1.82],[-0.55,0.27],[0.18,0.10],[-1.43,1.79],[0.62,-0.59],[-0.11,0.43],[1.81,-2.01],[-0.79,0.64],[0.29,0.57],[-0.24,0.71],[1.05,-1.19],[-0.62,0.38],[0.39,-1.16],[-1.88,1.37],[0.76,-1.07],[-0.03,0.28],[0.52,0.30],[-0.87,1.10],[1.27,-0.96],[-0.33,0.05],[0.09,0.61],[-1.15,1.86],[0.68,-0.36],[-0.49,0.46],[1.43,-0.65],[-0.19,0.54],[0.26,0.91],[-0.71,0.85],[0.98,-0.93],[-1.31,1.64],[0.15,-0.44],[-0.58,0.43],[1.69,-2.11],[-0.08,0.30],[0.43,-0.22],[-0.97,0.16],[0.81,-0.21],[-0.27,0.12],[0.01,-0.03],[0.57,-0.10],[-1.52,1.87],[0.36,-0.45],[-0.42,0.53],[1.18,-1.74],[-0.74,1.08],[0.23,-0.25],[-0.14,0.56],[0.89,-1.71],[-1.09,0.60],[0.65,-0.60],[-0.36,-0.29],[1.49,-1.52],[-0.52,0.29],[0.07,-0.88],[-1.26,0.29],[0.74,-0.76],[-0.21,0.15],[1.01,-0.26],[-0.65,0.89],[0.31,-0.51],[-1.74,0.48],[0.49,-0.45],[-0.05,-0.17],[1.23,-1.67],[-0.83,1.14],[0.14,-0.48],[-0.46,0.29],[0.86,-1.84],[-1.36,1.62],[0.27,-0.11],[-0.12,-0.21],[1.62,-1.74],[-0.59,1.22],[0.41,-0.09],[-0.96,0.81],[0.05,-0.68],[1.09,-1.29],[-0.31,0.39],[0.66,0.50],[-1.19,0.66],[0.19,-0.35],[-0.77,1.13],[1.38,-1.21],[-0.02,-0.62],[0.53,-1.31],[-1.58,1.00],[0.79,-0.67],[-0.26,0.75],[0.11,0.31],[-0.89,0.85],[1.16,-1.66],[-0.43,-0.03],[0.35,-0.48],[-1.05,1.66],[0.59,-0.54],[-0.17,-0.16],[1.93,-2.08],[-0.69,0.50],[0.24,0.41],[-0.35,-0.42],[0.96,-0.51],[-1.39,1.28],[0.45,-1.17],[-0.09,-0.37],[0.72,-0.69],[-0.81,0.34],[1.29,-1.46],[-0.53,1.31],[0.08,0.10],[-1.12,0.97],[0.61,-1.19],[-0.22,0.68],[1.52,-1.56],[-0.64,0.30],[0.33,-0.27],[-0.99,1.57],[0.85,-0.20],[-0.13,0.35],[0.17,-1.06],[-1.61,1.68],[0.69,-0.47],[-0.39,0.89],[1.07,-0.58],[-0.76,0.49],[0.28,-0.99],[-0.04,-0.30],[1.21,-0.75],[-1.29,0.43],[0.44,-0.73]
];

// Row 2: positions of the points along each line (same sample, drawn at different angles)
const lineT = [-3.32,-3.03,-2.77,-2.67,-2.42,-2.31,-2.19,-2.04,-1.91,-1.81,-1.74,-1.66,-1.59,-1.51,-1.44,-1.37,-1.29,-1.22,-1.15,-1.08,-1.01,-0.94,-0.87,-0.80,-0.74,-0.67,-0.60,-0.53,-0.47,-0.40,-0.33,-0.27,-0.20,-0.13,-0.06,0.01,0.08,0.14,0.21,0.28,0.35,0.42,0.49,0.56,0.63,0.70,0.77,0.84,0.91,0.98,1.06,1.30,1.37,1.44,1.52,1.60,1.69,1.77,1.84,1.99,2.11,2.22,2.38,2.52,2.76,2.87,3.32];
// Row 2: direction (x, y components) of each line
const lineDir = [[0.707,0.707],[0.866,0.5],[0.966,0.259],[1,0],[0.966,-0.259],[0.866,-0.5],[0.707,-0.707]];

// Build the point table
const points = [];
rho1.forEach(v => points.push({col: 0, row: 0, x: v, y: v}));
[rho08, rho04, rho0, rhoM04, rhoM08].forEach((arr, k) =>
  arr.forEach(([x, y]) => points.push({col: k + 1, row: 0, x, y})));
rhoM1.forEach(v => points.push({col: 6, row: 0, x: v, y: -v}));
lineDir.forEach(([dx, dy], c) =>
  lineT.forEach(t => points.push({col: c, row: 1, x: t * dx, y: t * dy})));

const titles = [
  ...topTitles.map((label, col) => ({col, row: 0, label})),
  ...bottomTitles.map((label, col) => ({col, row: 1, label}))
].filter(d => d.label !== "");

const chart = Plot.plot({
  width: 2308,
  height: 686,
  marginTop: 26,
  marginBottom: 3,
  marginLeft: 14,
  marginRight: 16,
  style: {background: "#fff"},
  x: {domain: [-4.32, 4.32], axis: null},
  y: {domain: [-5.77, 5.77], axis: null},
  fx: {domain: [0, 1, 2, 3, 4, 5, 6], paddingInner: 0.2, paddingOuter: 0, axis: null},
  fy: {domain: [0, 1], paddingInner: 0.16, paddingOuter: 0, axis: null},
  marks: [
    Plot.dot(points, {x: "x", y: "y", fx: "col", fy: "row", r: 1.9, fill: "#00007f", stroke: "none"}),
    Plot.text(titles, {fx: "col", fy: "row", text: "label", frameAnchor: "top", lineAnchor: "bottom", dy: 26,
      fontSize: 46, fontFamily: "Liberation Serif", fill: "#000"})
  ]
});
document.getElementById("chart").appendChild(chart);
</script>
</body></html>
